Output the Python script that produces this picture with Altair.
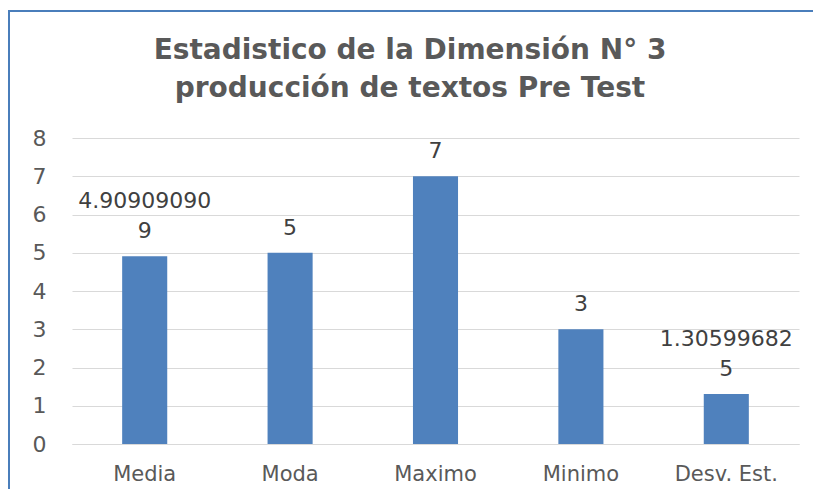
import altair as alt
import pandas as pd

categories = ["Media", "Moda", "Maximo", "Minimo", "Desv. Est."]
values = [4.909090909, 5, 7, 3, 1.305996825]
label_top = ["4.90909090", "", "", "", "1.30599682"]
label_bottom = ["9", "5", "7", "3", "5"]
title_lines = ["Estadistico de la Dimensión N° 3", "producción de textos Pre Test"]

GRAY = "#595959"
BLUE = "#4f81bd"
W, H = 727, 306

df = pd.DataFrame({"cat": categories, "val": values, "top": label_top, "bot": label_bottom})
one = pd.DataFrame({"k": [0]})

x = alt.X(
    "cat:N",
    sort=categories,
    title=None,
    scale=alt.Scale(paddingInner=0.69, paddingOuter=0.345),
    axis=alt.Axis(
        labelAngle=0,
        labelFont="DejaVu Sans",
        labelFontSize=21,
        labelColor=GRAY,
        labelPadding=19,
        ticks=False,
        domainColor="#d9d9d9",
        domainWidth=1,
        grid=False,
    ),
)
y = alt.Y(
    "val:Q",
    title=None,
    scale=alt.Scale(domain=[0, 8], nice=False, zero=True),
    axis=alt.Axis(
        values=[0, 1, 2, 3, 4, 5, 6, 7, 8],
        labelOverlap=False,
        labelFont="DejaVu Sans",
        labelFontSize=22,
        labelColor=GRAY,
        labelPadding=26,
        ticks=False,
        domain=False,
        gridColor="#d9d9d9",
        gridWidth=1,
    ),
)

bars = alt.Chart(df).mark_bar(color=BLUE).encode(x=x, y=y)

text_style = dict(
    font="DejaVu Sans",
    fontSize=22,
    color="#404040",
    baseline="alphabetic",
)
text_bot = alt.Chart(df).mark_text(dy=-18, **text_style).encode(x=x, y=y, text="bot:N")
text_top = alt.Chart(df).mark_text(dy=-48, **text_style).encode(x=x, y=y, text="top:N")

title = alt.Chart(one).mark_text(
    text=title_lines,
    font="DejaVu Sans",
    fontWeight="bold",
    fontSize=28,
    color=GRAY,
    align="center",
    baseline="alphabetic",
    lineHeight=38,
).encode(x=alt.value(338), y=alt.value(59 - 138))

border_top = alt.Chart(one).mark_rule(color="#4a7ebb", strokeWidth=2).encode(
    x=alt.value(-64), x2=alt.value(W + 20), y=alt.value(11 - 138)
)
border_left = alt.Chart(one).mark_rule(color="#4a7ebb", strokeWidth=2).encode(
    x=alt.value(-63), y=alt.value(11 - 138), y2=alt.value(H + 45)
)

chart = (
    alt.layer(bars, text_bot, text_top, title, border_top, border_left)
    .properties(
        width=W,
        height=H,
        autosize=alt.AutoSizeParams(type="none"),
        padding={"left": 64, "top": 130, "right": 14, "bottom": 45},
        background="white",
    )
    .configure_view(stroke=None)
)

chart.save("out.html", embed_options={"renderer": "svg", "actions": False})
